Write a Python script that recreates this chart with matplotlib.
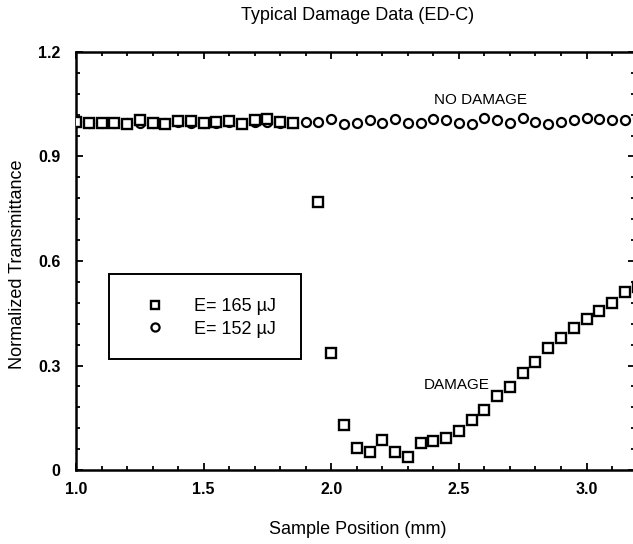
import matplotlib
matplotlib.use("Agg")
import matplotlib.pyplot as plt
from matplotlib.ticker import MultipleLocator
from matplotlib.patches import Rectangle

plt.rcParams['font.family'] = ['Liberation Sans', 'DejaVu Sans']
narrow = ['Liberation Sans Narrow', 'Liberation Sans', 'DejaVu Sans']

# E = 165 uJ (squares)
sq_x = [1.00, 1.05, 1.10, 1.15, 1.20, 1.25, 1.30, 1.35, 1.40, 1.45,
        1.50, 1.55, 1.60, 1.65, 1.70, 1.75, 1.80, 1.85,
        1.95, 2.00, 2.05, 2.10, 2.15, 2.20, 2.25, 2.30, 2.35, 2.40,
        2.45, 2.50, 2.55, 2.60, 2.65, 2.70, 2.75, 2.80, 2.85, 2.90,
        2.95, 3.00, 3.05, 3.10, 3.15, 3.20]
sq_y = [1.000, 0.995, 0.997, 0.996, 0.993, 1.005, 0.997, 0.994, 1.002, 1.001,
        0.996, 1.000, 1.001, 0.994, 1.006, 1.008, 0.998, 0.996,
        0.770, 0.335, 0.129, 0.063, 0.052, 0.086, 0.052, 0.037, 0.078, 0.083,
        0.092, 0.112, 0.144, 0.172, 0.212, 0.238, 0.278, 0.310, 0.350, 0.379,
        0.408, 0.434, 0.457, 0.479, 0.511, 0.525]

# E = 152 uJ (circles)
ci_x = [1.00, 1.05, 1.10, 1.15, 1.20, 1.25, 1.30, 1.35, 1.40, 1.45,
        1.50, 1.55, 1.60, 1.65, 1.70, 1.75, 1.80, 1.85, 1.90, 1.95,
        2.00, 2.05, 2.10, 2.15, 2.20, 2.25, 2.30, 2.35, 2.40, 2.45,
        2.50, 2.55, 2.60, 2.65, 2.70, 2.75, 2.80, 2.85, 2.90, 2.95,
        3.00, 3.05, 3.10, 3.15, 3.20]
ci_y = [0.998, 0.995, 0.997, 0.996, 0.995, 0.997, 0.996, 0.995, 0.998, 0.997,
        0.996, 0.997, 0.998, 0.995, 0.999, 0.999, 0.997, 0.996, 1.000, 1.000,
        1.007, 0.993, 0.995, 1.005, 0.995, 1.007, 0.995, 0.995, 1.007, 1.005,
        0.995, 0.993, 1.010, 1.005, 0.995, 1.010, 1.000, 0.993, 1.000, 1.005,
        1.010, 1.007, 1.005, 1.005, 1.010]

y_ticks = [0, 0.3, 0.6, 0.9, 1.2]
y_ticklabels = ["0", "0.3", "0.6", "0.9", "1.2"]
x_ticks = [1.0, 1.5, 2.0, 2.5, 3.0]
x_ticklabels = ["1.0", "1.5", "2.0", "2.5", "3.0"]

W, H = 633, 544
AX_L, AX_R, AX_T, AX_B = 76, 635, 52, 470
fig = plt.figure(figsize=(W / 100, H / 100), dpi=100)
ax = fig.add_axes([AX_L / W, 1 - AX_B / H, (AX_R - AX_L) / W, (AX_B - AX_T) / H])

ax.plot(sq_x, sq_y, linestyle='none', marker='s', markersize=7, markerfacecolor='white',
        markeredgecolor='black', markeredgewidth=1.7, label='E= 165 µJ', zorder=3)
ax.plot(ci_x, ci_y, linestyle='none', marker='o', markersize=6.5, markerfacecolor='white',
        markeredgecolor='black', markeredgewidth=1.6, label='E= 152 µJ', zorder=2)

ax.set_xlim(1.0, 3.19)
ax.set_ylim(0, 1.2)
ax.set_xticks(x_ticks)
ax.set_xticklabels(x_ticklabels, fontfamily=narrow, fontsize=11.5, fontweight='bold')
ax.set_yticks(y_ticks)
ax.set_yticklabels(y_ticklabels, fontfamily=narrow, fontsize=11.5, fontweight='bold')
ax.xaxis.set_minor_locator(MultipleLocator(0.1))
ax.yaxis.set_minor_locator(MultipleLocator(0.06))
ax.tick_params(which='both', direction='in', top=True, right=True, width=1.3)
ax.tick_params(which='major', length=5)
ax.tick_params(which='minor', length=3)
ax.tick_params(axis='x', pad=9)
ax.tick_params(axis='y', pad=11)
for s in ax.spines.values():
    s.set_linewidth(1.8)

ax.text(2.585, 1.062, "NO DAMAGE", ha='center', va='center', fontsize=11)
ax.text(2.49, 0.244, "DAMAGE", ha='center', va='center', fontsize=11)

fig.text(358 / W, 1 - 15 / H, "Typical Damage Data (ED-C)", ha='center', va='center', fontsize=13)
fig.text(358 / W, 1 - 529 / H, "Sample Position (mm)", ha='center', va='center', fontsize=13)
fig.text(18 / W, 1 - 264 / H, "Normalized Transmittance", ha='center', va='center',
         rotation=90, fontsize=13)

# legend: box drawn as a plain rectangle, entries via ax.legend
aw, ah = AX_R - AX_L, AX_B - AX_T
box = Rectangle(((109 - AX_L) / aw, (AX_B - 359) / ah), 192 / aw, 85 / ah,
                transform=ax.transAxes, facecolor='white', edgecolor='black',
                linewidth=1.4, zorder=4)
ax.add_patch(box)
leg = ax.legend(loc='center left', bbox_to_anchor=((146 - AX_L) / aw, (AX_B - 318) / ah),
                fontsize=13, frameon=False, handlelength=1.0, handletextpad=1.67,
                borderpad=0, labelspacing=0.3, borderaxespad=0, markerscale=0.9)
leg.set_zorder(5)

fig.savefig("out.png", dpi=100)
